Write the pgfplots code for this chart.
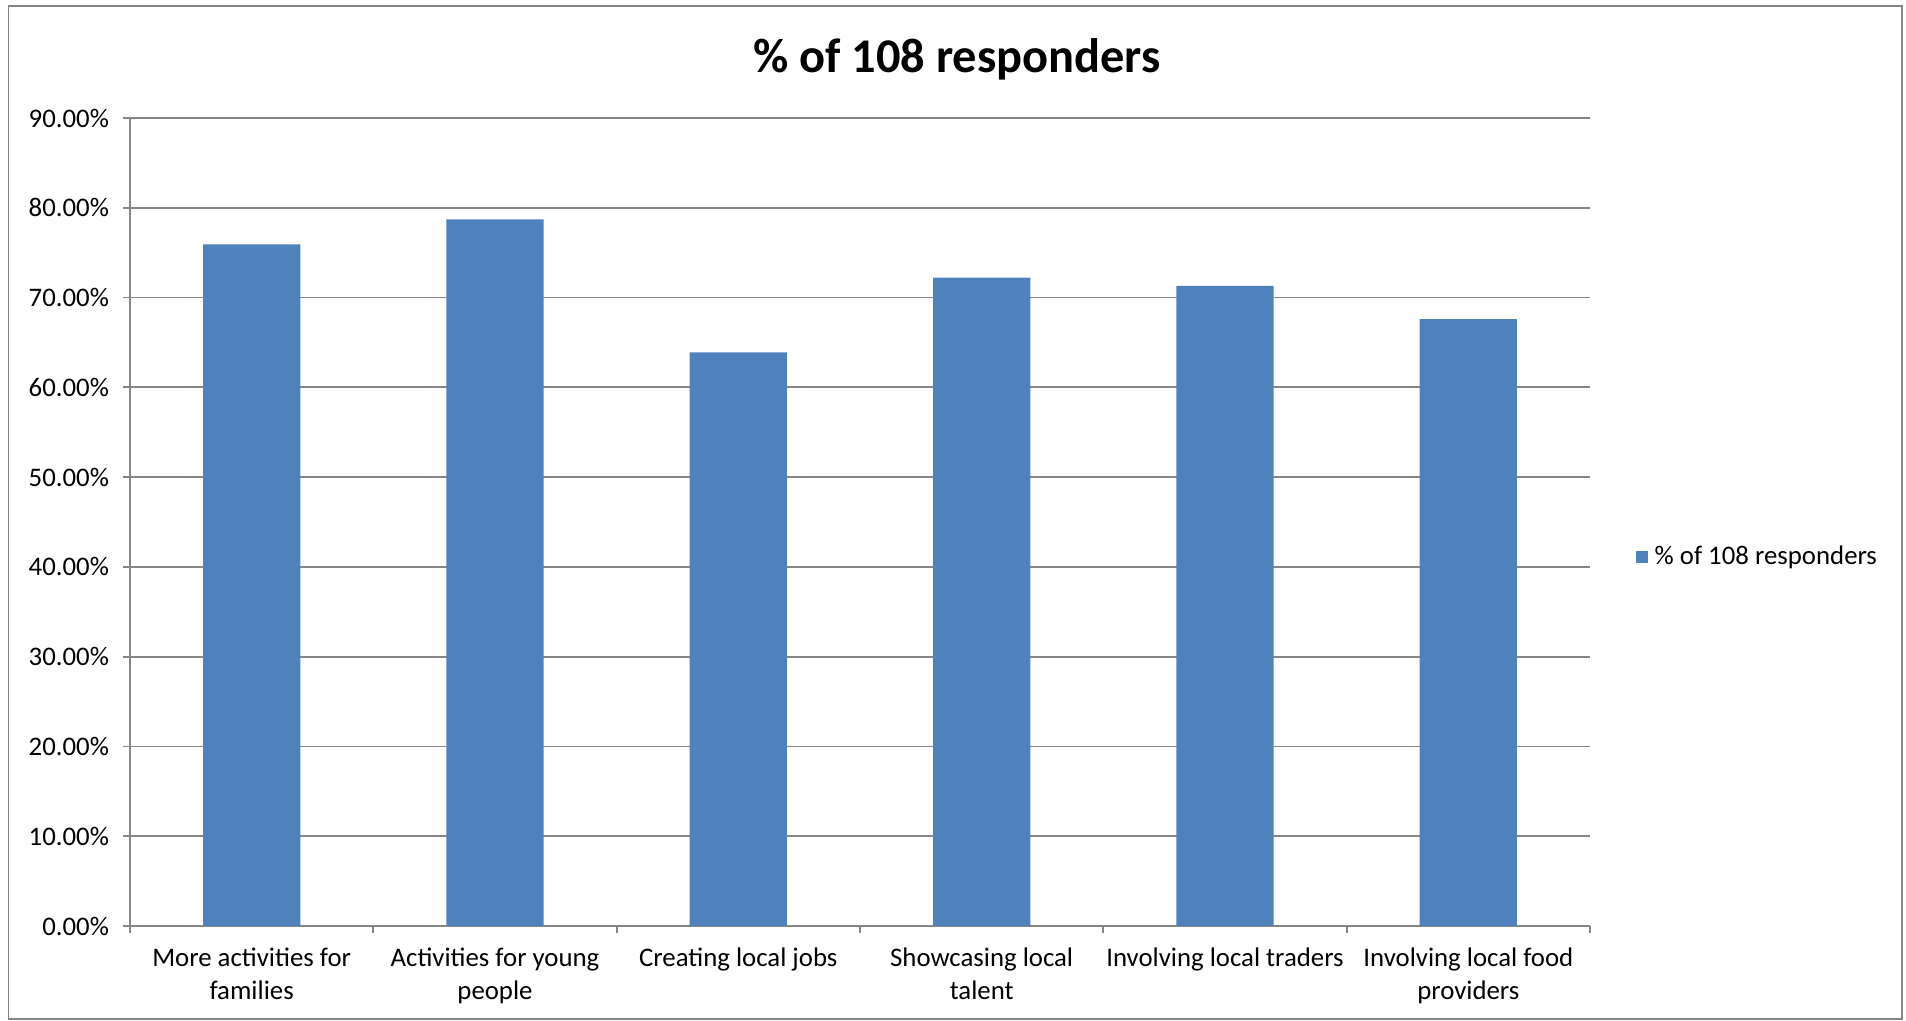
\documentclass[border=0pt]{standalone}
\usepackage{fontspec}
\setmainfont{Carlito}
\usepackage{pgfplots}
\pgfplotsset{compat=1.18}
\definecolor{barblue}{HTML}{4F81BD}
\definecolor{gridgray}{HTML}{868686}
\begin{document}
\begin{tikzpicture}
\useasboundingbox (0,0) rectangle (953pt,510.5pt);
\draw[gridgray, line width=0.9pt] (4.25pt,1pt) rectangle (951pt,507.5pt);
\node[anchor=base, font=\fontsize{24.2}{29}\selectfont\bfseries] at (478.5pt,474pt) {\% of 108 responders};
\begin{axis}[
  at={(65pt,47.5pt)}, anchor=south west,
  scale only axis,
  width=730pt, height=404pt,
  xmin=-0.5, xmax=5.5,
  ymin=0, ymax=90,
  ybar, bar width=48.65pt,
  axis x line*=bottom, axis y line*=left,
  axis line style={-, gridgray, line width=0.9pt},
  ymajorgrids, grid style={gridgray, line width=0.9pt},
  ytick={0,10,...,90},
  yticklabels={0.00\%,10.00\%,20.00\%,30.00\%,40.00\%,50.00\%,60.00\%,70.00\%,80.00\%,90.00\%},
  xtick={0,1,2,3,4,5},
  xticklabels={More activities for\\families, Activities for young\\people, Creating local jobs, Showcasing local\\talent, Involving local traders, Involving local food\\providers},
  minor xtick={-0.5,0.5,...,5.5},
  major x tick style={draw=none},
  minor x tick style={gridgray, line width=0.9pt},
  major y tick style={gridgray, line width=0.9pt},
  tick align=outside,
  major tick length=3.5pt, minor tick length=3.5pt,
  x tick label style={align=center, font=\fontsize{13.4}{16.4}\selectfont, yshift=-4pt},
  y tick label style={font=\fontsize{13.4}{16.4}\selectfont, xshift=-3.5pt},
  /pgf/number format/assume math mode=true,
  legend style={at={(1.031,0.4567)}, anchor=west, draw=none, fill=none,
    font=\fontsize{13.4}{16.4}\selectfont, inner sep=0pt},
  legend image code/.code={\fill[#1] (0pt,-3pt) rectangle (6pt,3pt);},
  legend style={nodes={inner xsep=3.5pt}},
]
\addplot[fill=barblue, draw=none] coordinates {(0,75.93) (1,78.70) (2,63.89) (3,72.22) (4,71.30) (5,67.59)};
\addlegendentry{\% of 108 responders}
\end{axis}
\end{tikzpicture}
\end{document}
